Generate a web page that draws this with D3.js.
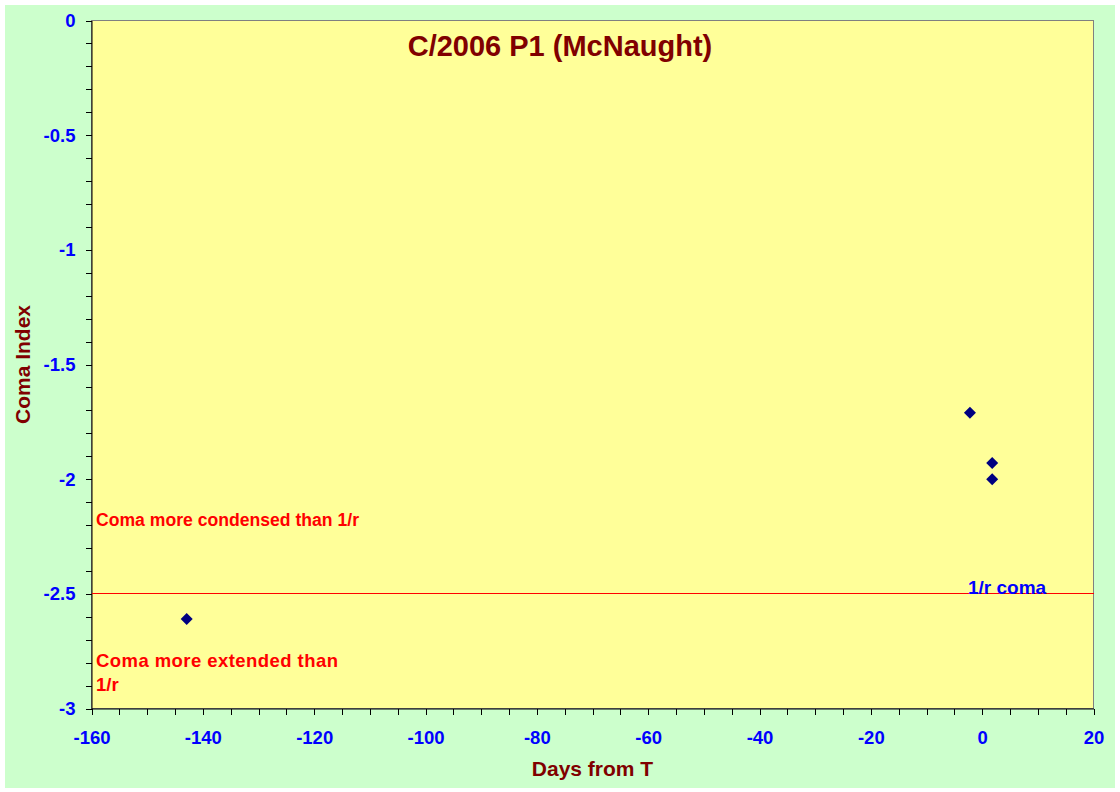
<!DOCTYPE html>
<html>
<head>
<meta charset="utf-8">
<script src="https://cdn.jsdelivr.net/npm/d3@7"></script>
<style>
  html, body { margin: 0; padding: 0; background: #ffffff; }
  svg { display: block; }
  text { font-family: "Liberation Sans", Arial, sans-serif; font-weight: bold; }
</style>
</head>
<body>
<svg id="chart" width="1120" height="792"></svg>
<script>
const days = [-142.9, -2.2, 1.8, 1.8];
const comaIndex = [-2.61, -1.71, -1.93, -2.0];
const xTicks = [-160, -140, -120, -100, -80, -60, -40, -20, 0, 20];
const yTicks = [0, -0.5, -1, -1.5, -2, -2.5, -3];
const referenceLevel = -2.5;
const title = "C/2006 P1 (McNaught)";
const xTitle = "Days from T";
const yTitle = "Coma Index";

(function () {
const svg = d3.select("#chart");
const pL = 91.5, pR = 1093.5, pT = 20.5, pB = 708.5;

svg.append("rect").attr("x", 5).attr("y", 5).attr("width", 1110).attr("height", 783).attr("fill", "#CCFFCC");
svg.append("rect").attr("x", pL).attr("y", pT).attr("width", pR - pL).attr("height", pB - pT)
  .attr("fill", "#FFFF99").attr("stroke", "#808080").attr("stroke-width", 1);

const x = d3.scaleLinear().domain([-160, 20]).range([pL, pR]);
const y = d3.scaleLinear().domain([-3, 0]).range([pB, pT]);

const xMinor = d3.range(-160, 20.001, 5);
const yMinor = d3.range(-3, 0.001, 0.1).map(v => +v.toFixed(2));

const xAxis = svg.append("g").attr("transform", `translate(0,${pB})`)
  .call(d3.axisBottom(x).tickValues(xMinor).tickSize(6).tickSizeOuter(0).tickFormat(""));
xAxis.select(".domain").attr("stroke", "#000");
xAxis.selectAll("line").attr("stroke", "#000").attr("shape-rendering", "crispEdges");
const xLab = svg.append("g").attr("transform", `translate(0,${pB})`)
  .call(d3.axisBottom(x).tickValues(xTicks).tickSize(0).tickPadding(22));
xLab.select(".domain").remove();
xLab.selectAll("text").attr("fill", "#0000FF").attr("font-size", 18.5).attr("font-weight", "bold")
  .attr("font-family", "Liberation Sans, Arial, sans-serif").text(d => String(d));

const yAxis = svg.append("g").attr("transform", `translate(${pL},0)`)
  .call(d3.axisLeft(y).tickValues(yMinor).tickSize(6).tickSizeOuter(0).tickFormat(""));
yAxis.select(".domain").attr("stroke", "#000");
yAxis.selectAll("line").attr("stroke", "#000").attr("shape-rendering", "crispEdges");
const yLab = svg.append("g").attr("transform", `translate(${pL},0)`)
  .call(d3.axisLeft(y).tickValues(yTicks).tickSize(0).tickPadding(16));
yLab.select(".domain").remove();
yLab.selectAll("text").attr("fill", "#0000FF").attr("font-size", 18.5).attr("font-weight", "bold")
  .attr("font-family", "Liberation Sans, Arial, sans-serif").text(d => String(d));

svg.append("line").attr("x1", pL).attr("x2", pR).attr("y1", y(referenceLevel)).attr("y2", y(referenceLevel))
  .attr("stroke", "#FF0000").attr("stroke-width", 1).attr("shape-rendering", "crispEdges");

svg.append("g").selectAll("path").data(days.map((d, i) => [d, comaIndex[i]])).join("path")
  .attr("transform", d => `translate(${x(d[0])},${y(d[1])})`)
  .attr("d", "M0,-6L6,0L0,6L-6,0Z")
  .attr("fill", "#000080");

svg.append("text").attr("x", 96).attr("y", 526).attr("fill", "#FF0000").attr("font-size", 17.6)
  .text("Coma more condensed than 1/r");
svg.append("text").attr("x", 96).attr("y", 667).attr("fill", "#FF0000").attr("font-size", 18.5)
  .attr("textLength", 242).attr("lengthAdjust", "spacing")
  .text("Coma more extended than");
svg.append("text").attr("x", 96).attr("y", 691).attr("fill", "#FF0000").attr("font-size", 18.5)
  .text("1/r");
svg.append("text").attr("x", 968).attr("y", 594).attr("fill", "#0000FF").attr("font-size", 19)
  .text("1/r coma");

svg.append("text").attr("x", 560).attr("y", 56).attr("text-anchor", "middle").attr("fill", "#800000")
  .attr("font-size", 29).text(title);
svg.append("text").attr("x", (pL + pR) / 2).attr("y", 776).attr("text-anchor", "middle").attr("fill", "#800000")
  .attr("font-size", 21).text(xTitle);
svg.append("text").attr("transform", `translate(30,${(pT + pB) / 2}) rotate(-90)`).attr("text-anchor", "middle")
  .attr("fill", "#800000").attr("font-size", 21).text(yTitle);
})();
</script>
</body>
</html>
